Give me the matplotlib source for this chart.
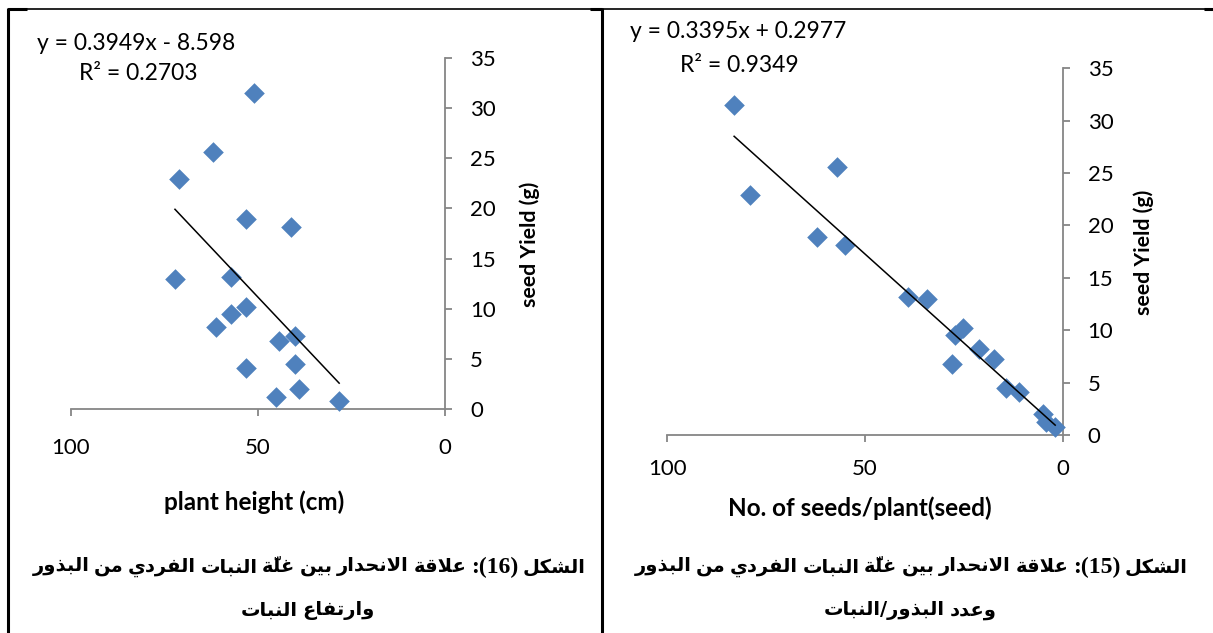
import re
import matplotlib
matplotlib.use("Agg")
import matplotlib.pyplot as plt
from matplotlib.lines import Line2D

W, H = 1213, 633

# ---------------- data ----------------
seed_yield = [31.5, 25.6, 22.9, 18.9, 18.1, 13.2, 13.0, 10.2, 9.5, 8.2, 7.3, 6.8, 4.5, 4.1, 2.0, 1.2, 0.8]
plant_height = [51.1, 62.1, 71.1, 53.2, 41.2, 57.3, 72.2, 53.1, 57.2, 61.2, 40.2, 44.3, 40.2, 53.2, 39.1, 45.3, 28.3]
seeds_per_plant = [83.1, 57.2, 79.0, 62.1, 55.1, 39.1, 34.2, 25.1, 27.2, 21.1, 17.4, 28.1, 14.3, 11.1, 5.1, 4.2, 1.9]

fit_left = (0.3949, -8.598, 0.2703)
fit_right = (0.3395, 0.2977, 0.9349)

x_ticks = [100, 50, 0]
y_ticks = [0, 5, 10, 15, 20, 25, 30, 35]

xlabel_left = "plant height (cm)"
xlabel_right = "No. of seeds/plant(seed)"
ylabel = "seed Yield (g)"

# captions in logical (reading) order
cap_left_1 = ["الشكل", "(16):", "علاقة", "الانحدار", "بين", "غلّة", "النبات", "الفردي", "من", "البذور"]
cap_left_2 = ["وارتفاع", "النبات"]
cap_right_1 = ["الشكل", "(15):", "علاقة", "الانحدار", "بين", "غلَّة", "النبات", "الفردي", "من", "البذور"]
cap_right_2 = ["وعدد", "البذور/النبات"]

# ---------------- Arabic shaping (presentation forms) ----------------
AR_FORMS = {
    'ا': ('\uFE8D', '\uFE8E', None, None),
    'ب': ('\uFE8F', '\uFE90', '\uFE91', '\uFE92'),
    'ة': ('\uFE93', '\uFE94', None, None),
    'ت': ('\uFE95', '\uFE96', '\uFE97', '\uFE98'),
    'ح': ('\uFEA1', '\uFEA2', '\uFEA3', '\uFEA4'),
    'د': ('\uFEA9', '\uFEAA', None, None),
    'ذ': ('\uFEAB', '\uFEAC', None, None),
    'ر': ('\uFEAD', '\uFEAE', None, None),
    'ش': ('\uFEB5', '\uFEB6', '\uFEB7', '\uFEB8'),
    'ع': ('\uFEC9', '\uFECA', '\uFECB', '\uFECC'),
    'غ': ('\uFECD', '\uFECE', '\uFECF', '\uFED0'),
    'ف': ('\uFED1', '\uFED2', '\uFED3', '\uFED4'),
    'ق': ('\uFED5', '\uFED6', '\uFED7', '\uFED8'),
    'ك': ('\uFED9', '\uFEDA', '\uFEDB', '\uFEDC'),
    'ل': ('\uFEDD', '\uFEDE', '\uFEDF', '\uFEE0'),
    'م': ('\uFEE1', '\uFEE2', '\uFEE3', '\uFEE4'),
    'ن': ('\uFEE5', '\uFEE6', '\uFEE7', '\uFEE8'),
    'و': ('\uFEED', '\uFEEE', None, None),
    'ي': ('\uFEF1', '\uFEF2', '\uFEF3', '\uFEF4'),
    'لا': ('\uFEFB', '\uFEFC', None, None),
}
MARKS = set('\u064B\u064C\u064D\u064E\u064F\u0650\u0651\u0652')


def shape_word(word):
    tokens = []
    i = 0
    while i < len(word):
        ch = word[i]
        if ch in MARKS and tokens:
            tokens[-1][1] += ch
        elif ch == 'ل' and i + 1 < len(word) and word[i + 1] == 'ا':
            tokens.append(['لا', ''])
            i += 1
        else:
            tokens.append([ch, ''])
        i += 1
    out = []
    for k, (base, marks) in enumerate(tokens):
        forms = AR_FORMS.get(base)
        if forms is None:
            out.append(marks + base)
            continue
        prev = tokens[k - 1][0] if k > 0 else None
        nxt = tokens[k + 1][0] if k + 1 < len(tokens) else None
        jp = prev in AR_FORMS and AR_FORMS[prev][2] is not None
        jn = forms[2] is not None and nxt in AR_FORMS
        if jp and jn:
            g = forms[3]
        elif jp:
            g = forms[1]
        elif jn:
            g = forms[2]
        else:
            g = forms[0]
        out.append(marks + g)
    return ''.join(reversed(out))


def is_arabic(tok):
    return any(('\u0600' <= c <= '\u06FF') for c in tok)


def visual_token(tok):
    if is_arabic(tok):
        parts = tok.split('/')
        return '/'.join(shape_word(p) for p in reversed(parts))
    mirror = {'(': ')', ')': '('}
    rev = ''.join(mirror.get(c, c) for c in reversed(tok))
    return re.sub(r'\d+', lambda m: m.group(0)[::-1], rev)


# ---------------- figure ----------------
fig = plt.figure(figsize=(W / 100, H / 100), dpi=100)
fig.patch.set_facecolor('white')

GREY = '#868686'
BLUE = '#4F81BD'
FONT = 'Lato'


def fx(x):
    return x / W


def fy(y):
    return 1 - y / H


def make_axes(x0, x1, y0, y1):
    ax = fig.add_axes([fx(x0), fy(y0), fx(x1 - x0), (y0 - y1) / H])
    ax.set_xlim(100, 0)
    ax.set_ylim(0, 35)
    for s in ('left', 'top'):
        ax.spines[s].set_visible(False)
    for s in ('right', 'bottom'):
        ax.spines[s].set_color(GREY)
        ax.spines[s].set_linewidth(1.3)
    ax.yaxis.tick_right()
    ax.set_xticks(x_ticks)
    ax.set_yticks(y_ticks)
    ax.set_xticklabels([str(v) for v in x_ticks], fontfamily=FONT, fontsize=16)
    ax.set_yticklabels([str(v) for v in y_ticks], fontfamily=FONT, fontsize=16)
    ax.tick_params(axis='both', direction='out', length=5, width=1.3, color=GREY)
    ax.patch.set_alpha(0)
    for sp in ax.spines.values():
        sp.set_clip_on(False)
    return ax


ax1 = make_axes(71, 445, 409, 58)
ax1.tick_params(axis='x', pad=16)
ax1.tick_params(axis='y', pad=13)
ax2 = make_axes(667.3, 1062.7, 435, 68.3)
ax2.tick_params(axis='x', pad=12)
ax2.tick_params(axis='y', pad=13)


def draw_panel(ax, xs, fit):
    ax.scatter(xs, seed_yield, marker='D', s=10.5 ** 2, color=BLUE, linewidths=0,
               zorder=3, clip_on=False)
    a, b, _ = fit
    x0, x1 = min(xs), max(xs)
    ax.plot([x0, x1], [a * x0 + b, a * x1 + b], color='black', lw=1.1, zorder=4,
            clip_on=False)


draw_panel(ax1, plant_height, fit_left)
draw_panel(ax2, seeds_per_plant, fit_right)


def eq_text(fit):
    a, b, r2 = fit
    sign = '-' if b < 0 else '+'
    return f"y = {a:.4f}x {sign} {abs(b):g}", f"R² = {r2:.4f}"


EQ = dict(fontfamily=FONT, fontsize=16.5, va='center', ha='left')
e1, r1 = eq_text(fit_left)
e2, r2 = eq_text(fit_right)
fig.text(fx(37), fy(43), e1, **EQ)
fig.text(fx(79), fy(73), r1, **EQ)
fig.text(fx(630), fy(31), e2, **EQ)
fig.text(fx(680), fy(65), r2, **EQ)

# axis titles
XL = dict(fontfamily=FONT, fontweight='bold', fontsize=17.5, ha='center', va='center')
YL = dict(fontfamily=FONT, fontweight='bold', fontsize=15.3, ha='center', va='center',
          rotation=90)
fig.text(fx(254), fy(502), xlabel_left, **XL)
fig.text(fx(860), fy(508), xlabel_right, **XL)
fig.text(fx(530), fy(244), ylabel, **YL)
fig.text(fx(1144), fy(252), ylabel, **YL)

# ---------------- captions ----------------
renderer = fig.canvas.get_renderer()
AR_PROPS = dict(fontfamily='DejaVu Sans', fontweight='bold', fontsize=14.0)
NUM_PROPS = dict(fontfamily='Liberation Serif', fontweight='bold', fontsize=17)


def place_line(tokens, cx, cy, gap=4.5):
    items = []
    for tok in reversed(tokens):  # right-to-left reading order
        props = AR_PROPS if is_arabic(tok) else NUM_PROPS
        items.append(fig.text(0, 0, visual_token(tok), va='center', ha='left', **props))
    widths = [t.get_window_extent(renderer=renderer).width for t in items]
    total = sum(widths) + gap * (len(items) - 1)
    x = cx - total / 2
    for t, w in zip(items, widths):
        t.set_position((fx(x), fy(cy)))
        x += w + gap


place_line(cap_left_1, 309, 567)
place_line(cap_left_2, 308, 610)
place_line(cap_right_1, 911, 567)
place_line(cap_right_2, 910, 610)

# ---------------- table borders ----------------
def fline(x0, y0, x1, y1, lw):
    fig.add_artist(Line2D([fx(x0), fx(x1)], [fy(y0), fy(y1)], color='black', lw=lw,
                          transform=fig.transFigure, solid_capstyle='butt'))


fline(8, 9, 1213, 9, 1.2)
fline(8, 8, 8, 633, 2.2)
fline(602, 8, 602, 633, 2.2)
fline(8, 9, 27, 9, 2.2)
fline(590, 9, 602, 9, 2.2)
fline(1204, 9, 1213, 9, 2.2)

fig.savefig('out.png', dpi=100, facecolor='white')
